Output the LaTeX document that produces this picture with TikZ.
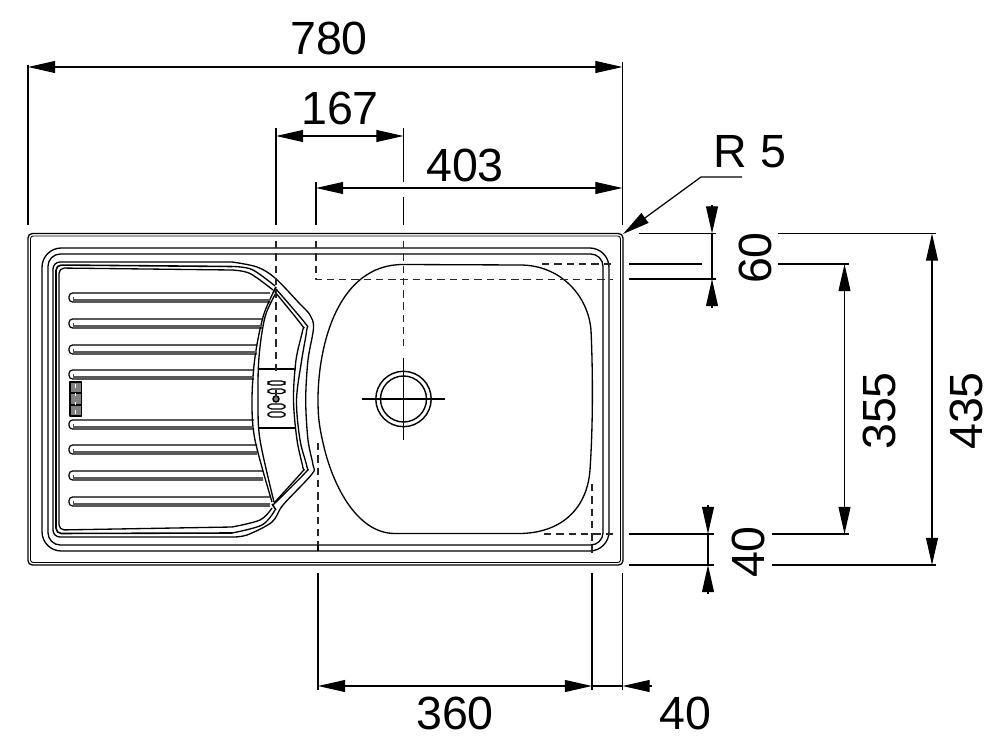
\documentclass[tikz,border=0pt]{standalone}
\usepackage{fontspec}
\setmainfont{Liberation Sans}
\usetikzlibrary{arrows.meta}
\tikzset{
  dimline/.style={line width=.7pt,{Triangle[length=15.5pt,width=6.8pt]}-{Triangle[length=15.5pt,width=6.8pt]}},
  extline/.style={line width=.7pt},
  hidden/.style={line width=1.1pt,black!85,dash pattern=on 4.2pt off 2.8pt},
  sinkline/.style={line width=.75pt},
  dimlabel/.style={font=\fontsize{26.5}{26.5}\selectfont,inner sep=0pt},
  groove/.style={line width=.7pt,rounded corners=2pt}
}
\begin{document}
\begin{tikzpicture}[x=.02cm,y=-.02cm,>={Triangle[length=15.5pt,width=6.8pt]}, line join=round, line cap=butt]
    \useasboundingbox (0,0) rectangle (1000,743);
    %Outer rim
    \draw[sinkline,rounded corners=2.5pt] (28,233.5) rectangle (623,565);
    \draw[line width=.5pt,rounded corners=1.5pt] (30.5,236) rectangle (620.5,562.5);
    \draw[sinkline,rounded corners=11pt] (42,248) rectangle (609,551);
    \draw[sinkline,rounded corners=7pt] (48,254) rectangle (603,545);
    %Drainer edge
    \draw[sinkline,rounded corners=4pt] (232,262) -- (53,262) -- (53,537) -- (232,537);
    \draw[line width=.9pt,rounded corners=3pt] (232,266.5) -- (56,265) -- (56,533.5) -- (232,533);
    \draw[sinkline,rounded corners=3pt] (232,270) -- (59,268) -- (59,530) -- (232,527);
    \draw[sinkline] plot[smooth,tension=.55] coordinates {(232,262) (257,267) (275,278) (300,304) (310,315) (313.5,328) (308,360) (305.7,400) (308,440) (313,465) (312,474) (283,505) (272,522) (247,535) (232,537)};
    \draw[sinkline] plot[smooth,tension=.55] coordinates {(232,266.5) (252,269.5) (275,286)};
    \draw[sinkline] plot[smooth,tension=.55] coordinates {(232,270) (250,273.5) (273,290)};
    \draw[sinkline] plot[smooth,tension=.55] coordinates {(232,533) (262,525) (275,510)};
    \draw[sinkline] plot[smooth,tension=.55] coordinates {(232,527) (260,520) (272,508)};
    %Double band round the panel
    \draw[sinkline] plot[smooth,tension=.55] coordinates {(276,289) (305,323) (306.7,330) (301.7,360) (296.5,400) (300,440) (307,467) (305,473) (273,505)};
    \draw[sinkline] plot[smooth,tension=.55] coordinates {(275,292) (301.7,325) (302.7,330) (296,360) (293.5,400) (297,440) (303,468) (302,472) (274,503)};
    \draw[sinkline] plot[smooth,tension=.55] coordinates {(273,293) (263,317) (255,357) (252,400) (255,440) (272,502)};
    \draw[sinkline] plot[smooth,tension=.55] coordinates {(276,293) (265,317) (259,357) (258,400) (260,440) (274,502)};
    \draw[line width=.9pt] (273,293) -- (276,287) (272,504) -- (276,510);
    %Panel between the grooves
    \draw[line width=.95pt] (258,369) -- (296,369) (258,428) -- (296,428);
    \draw[groove] (268,381) rectangle (285,385);
    \draw[groove] (268,389) rectangle (285,393.5);
    \draw[groove] (268,404) rectangle (285,409);
    \draw[groove] (268,412) rectangle (285,417);
    \draw[line width=.9pt,fill=black!50] (276,399) circle (3);
    %Grooves
    \foreach \y/\xend in {297/270,323/263,349/257,374/254,424/254,449/257,475/263,501/270}{
        \draw[groove] (\xend,\y-4) -- (69,\y-4) -- (69,\y+5) -- (\xend,\y+5);
        \draw[line width=1.1pt,black!65] (73,\y+3) -- (\xend,\y+3);
        \draw[line width=.5pt,black!70] (73,\y) -- (73,\y+3);
    }
    %Small plate
    \draw[line width=.7pt,fill=black!50] (70,382) rectangle (81.5,416);
    \foreach \y in {393,405}{
        \draw[line width=1pt] (70,\y) -- (81.5,\y);
    }
    \draw[line width=.6pt,white,dash pattern=on 2pt off 3pt] (75.5,384) -- (75.5,416);
    %Bowl
    \draw[sinkline] (318,400) .. controls (318,345) and (338,264.5) .. (403,264.5)
        -- (520,265) .. controls (560,265) and (588,295) .. (591,330)
        .. controls (593,375) and (593,425) .. (590,470)
        .. controls (587,510) and (560,533) .. (520,533.5)
        -- (395,533.5) .. controls (355,533.5) and (332,481) .. (324,447)
        .. controls (320,430) and (318,420) .. (318,400) -- cycle;
    %Waste hole
    \draw[line width=.8pt] (403.5,399) circle (27.7);
    \draw[line width=.8pt] (403.5,399) circle (23);
    \draw[extline] (362,399) -- (445,399) (403.5,358) -- (403.5,440);
    %Dashed lines
    \draw[hidden] (276,241) -- (276,375);
    \draw[hidden] (276,390) -- (276,398);
    \draw[hidden] (403.5,241) -- (403.5,346);
    \draw[hidden] (316,241) -- (316,279.5) -- (613,279.5);
    \draw[hidden] (542,264) -- (611,264);
    \draw[hidden] (318,443) -- (318,545);
    \draw[extline] (318,545) -- (318,551);
    \draw[hidden] (592,484) -- (592,555);
    \draw[hidden] (544,534) -- (613,534);
    %Extension lines
    \draw[extline] (28,65) -- (28,225) (622.5,62) -- (622.5,225);
    \draw[extline] (276,128) -- (276,225) (403.5,128) -- (403.5,182) (403.5,197) -- (403.5,225);
    \draw[extline] (316,182) -- (316,225);
    \draw[extline] (318,573) -- (318,690) (592,573) -- (592,690) (622.5,573) -- (622.5,690);
    \draw[extline] (639,233.5) -- (716,233.5) (629,264) -- (702,264) (629,279) -- (716,279);
    \draw[extline] (629,534) -- (714,534) (629,565) -- (714,565);
    \draw[extline] (778,233.5) -- (936,233.5) (778,264) -- (849,264);
    \draw[extline] (772,534) -- (849,534) (772,565) -- (936,565);
    %Dimensions
    \draw[dimline] (28,67) -- (622.5,67);
    \draw[dimline] (276,136) -- (403.5,136);
    \draw[dimline] (316,188) -- (622.5,188);
    \draw[dimline] (844.5,264) -- (844.5,534);
    \draw[dimline] (932,233.5) -- (932,565);
    \draw[dimline] (318,686) -- (592,686);
    \draw[extline,<-] (622.5,686) -- (652,686);
    \draw[extline] (592,686) -- (622.5,686);
    \draw[extline,<-] (712,233.5) -- (712,205);
    \draw[extline,<-] (712,279) -- (712,308);
    \draw[extline] (712,233.5) -- (712,279);
    \draw[extline,<-] (708,534) -- (708,505);
    \draw[extline,<-] (708,565) -- (708,594);
    \draw[extline] (708,534) -- (708,565);
    \draw[extline,<-] (623,234) -- (701,177) -- (742,177);
    %Labels
    \node[dimlabel] (lab780) at (329,38) {780};
    \node[dimlabel] (lab167) at (340,108) {167};
    \node[dimlabel] (lab403) at (465,165) {403};
    \node[dimlabel] (labR) at (750,152) {R 5};
    \node[dimlabel,rotate=90] (lab60) at (755,258) {60};
    \node[dimlabel,rotate=90] (lab40r) at (748,552) {40};
    \node[dimlabel,rotate=90] (lab355) at (879,411) {355};
    \node[dimlabel,rotate=90] (lab435) at (966,411) {435};
    \node[dimlabel] (lab360) at (455,713) {360};
    \node[dimlabel] (lab40b) at (685,713) {40};
\end{tikzpicture}
\end{document}
